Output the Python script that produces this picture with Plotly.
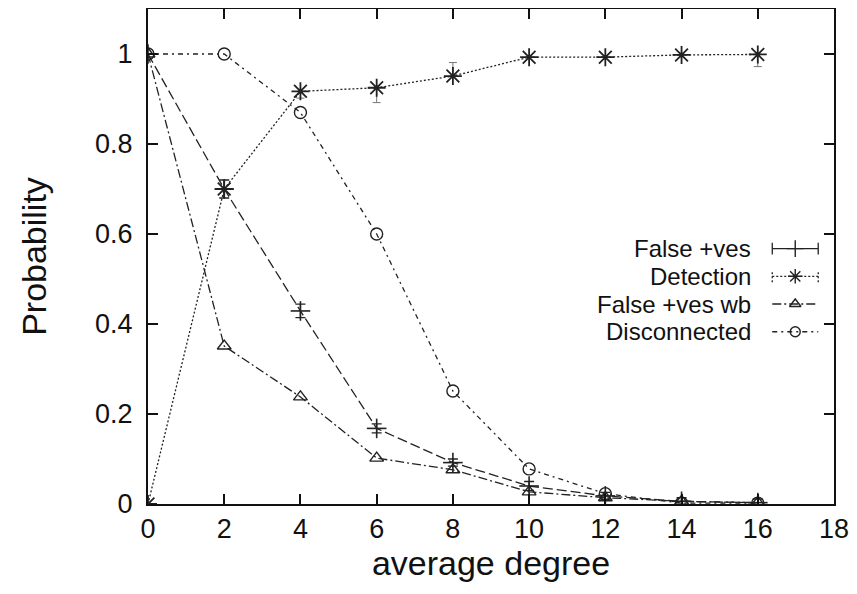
import plotly.graph_objects as go

# ---- data ----
degree = [0, 2, 4, 6, 8, 10, 12, 14, 16]
false_pos = [1.0, 0.70, 0.429, 0.168, 0.092, 0.040, 0.018, 0.006, 0.003]
false_pos_err = [0.0, 0.02, 0.015, 0.01, 0.008, 0.01, 0.008, 0.008, 0.008]
detection = [0.0, 0.70, 0.917, 0.925, 0.951, 0.993, 0.993, 0.998, 0.999]
detection_err_plus = [0.0, 0.0, 0.0, 0.0, 0.03, 0.0, 0.0, 0.0, 0.0]
detection_err_minus = [0.0, 0.0, 0.015, 0.033, 0.0, 0.0, 0.0, 0.0, 0.027]
false_pos_wb = [1.0, 0.351, 0.238, 0.102, 0.076, 0.027, 0.014, 0.006, 0.003]
disconnected = [1.0, 1.0, 0.87, 0.60, 0.251, 0.078, 0.023, 0.002, 0.002]

names = ["False +ves", "Detection", "False +ves wb", "Disconnected"]
x_ticks = [0, 2, 4, 6, 8, 10, 12, 14, 16, 18]
y_ticks = [0, 0.2, 0.4, 0.6, 0.8, 1]
y_tick_text = ["0", "0.2", "0.4", "0.6", "0.8", "1"]

FONT = "Liberation Sans, Arial, Helvetica, sans-serif"
INK = "#222222"

fig = go.Figure()

fig.add_trace(go.Scatter(
    x=degree, y=disconnected, mode="lines+markers", name=names[3],
    line=dict(color=INK, width=1.3, dash="5px,4px,2px,4px"),
    marker=dict(symbol="circle-open", size=12, color=INK, line=dict(width=1.4)),
))
fig.add_trace(go.Scatter(
    x=degree, y=false_pos_wb, mode="lines+markers", name=names[2],
    line=dict(color=INK, width=1.3, dash="9px,3px,2px,3px"),
    marker=dict(symbol="triangle-up-open", size=12, color=INK, line=dict(width=1.4)),
))
fig.add_trace(go.Scatter(
    x=degree, y=false_pos, mode="lines+markers", name=names[0],
    line=dict(color=INK, width=1.3, dash="10px,4px"),
    marker=dict(symbol="line-ew-open", size=14, color=INK, line=dict(width=1.6)),
    error_y=dict(type="data", array=false_pos_err, color=INK, thickness=1.3, width=5),
))
fig.add_trace(go.Scatter(
    x=degree, y=false_pos, mode="markers", showlegend=False, hoverinfo="skip",
    marker=dict(symbol="line-ns-open", size=14, color=INK, line=dict(width=1.6)),
))
fig.add_trace(go.Scatter(
    x=degree, y=detection, mode="lines+markers", name=names[1],
    line=dict(color=INK, width=1.3, dash="2px,2px"),
    marker=dict(symbol="asterisk-open", size=15, color=INK, line=dict(width=1.8)),
    error_y=dict(type="data", symmetric=False, array=detection_err_plus,
                 arrayminus=detection_err_minus, color="#777777", thickness=1, width=4),
))

# ---- manual gnuplot-style key (text right aligned, sample to the right) ----
key_text_x = 0.882
key_x0, key_x1 = 0.910, 0.977
key_rows = [0.516, 0.460, 0.404, 0.348]
sample_styles = [
    dict(dash="solid", symbol="cross-thin-open", size=12),
    dict(dash="2px,2px", symbol="asterisk-open", size=12),
    dict(dash="9px,3px,2px,3px", symbol="triangle-up-open", size=10),
    dict(dash="5px,4px,2px,4px", symbol="circle-open", size=10),
]
for name, ry, st in zip(names, key_rows, sample_styles):
    fig.add_annotation(x=key_text_x, y=ry, xref="paper", yref="paper", text=name,
                       showarrow=False, xanchor="right", yanchor="middle",
                       font=dict(family=FONT, size=24, color="#111111"))
    fig.add_trace(go.Scatter(
        x=[key_x0, key_x1], y=[ry, ry], xaxis="x2", yaxis="y2", mode="lines",
        showlegend=False, hoverinfo="skip",
        line=dict(color=INK, width=1.3, dash=st["dash"]),
    ))
    fig.add_trace(go.Scatter(
        x=[(key_x0 + key_x1) / 2], y=[ry], xaxis="x2", yaxis="y2", mode="markers",
        showlegend=False, hoverinfo="skip",
        marker=dict(symbol=st["symbol"], size=st["size"], color=INK, line=dict(width=1.4)),
    ))
# error-bar end caps on the first two key samples
for ry, dash in [(key_rows[0], "solid"), (key_rows[1], "2px,2px")]:
    for kx in (key_x0, key_x1):
        fig.add_shape(type="line", xref="paper", yref="paper", x0=kx, x1=kx,
                      y0=ry - 0.012, y1=ry + 0.012,
                      line=dict(color=INK, width=1.3, dash=dash))

axis_common = dict(
    showline=True, linecolor="#111111", linewidth=2, mirror="ticks",
    ticks="inside", ticklen=10, tickwidth=2, tickcolor="#111111",
    showgrid=False, zeroline=False, automargin=False,
    tickfont=dict(family=FONT, size=27, color="#111111"),
)

# page body has an 8px margin, so the figure is offset by (8, 8)
fig.update_layout(
    width=857, height=594,
    margin=dict(l=140, r=31, t=1, b=98),
    paper_bgcolor="white", plot_bgcolor="white",
    showlegend=False,
    xaxis=dict(range=[0, 18], tickvals=x_ticks, **axis_common,
               title=dict(text="average degree", standoff=6,
                          font=dict(family=FONT, size=34, color="#111111"))),
    yaxis=dict(range=[0, 1.1], tickvals=y_ticks, ticktext=y_tick_text, **axis_common,
               ticklabelstandoff=8,
               title=dict(text="Probability", standoff=38,
                          font=dict(family=FONT, size=34, color="#111111"))),
    xaxis2=dict(overlaying="x", range=[0, 1], visible=False),
    yaxis2=dict(overlaying="y", range=[0, 1], visible=False),
)

fig.write_html("out.html")
